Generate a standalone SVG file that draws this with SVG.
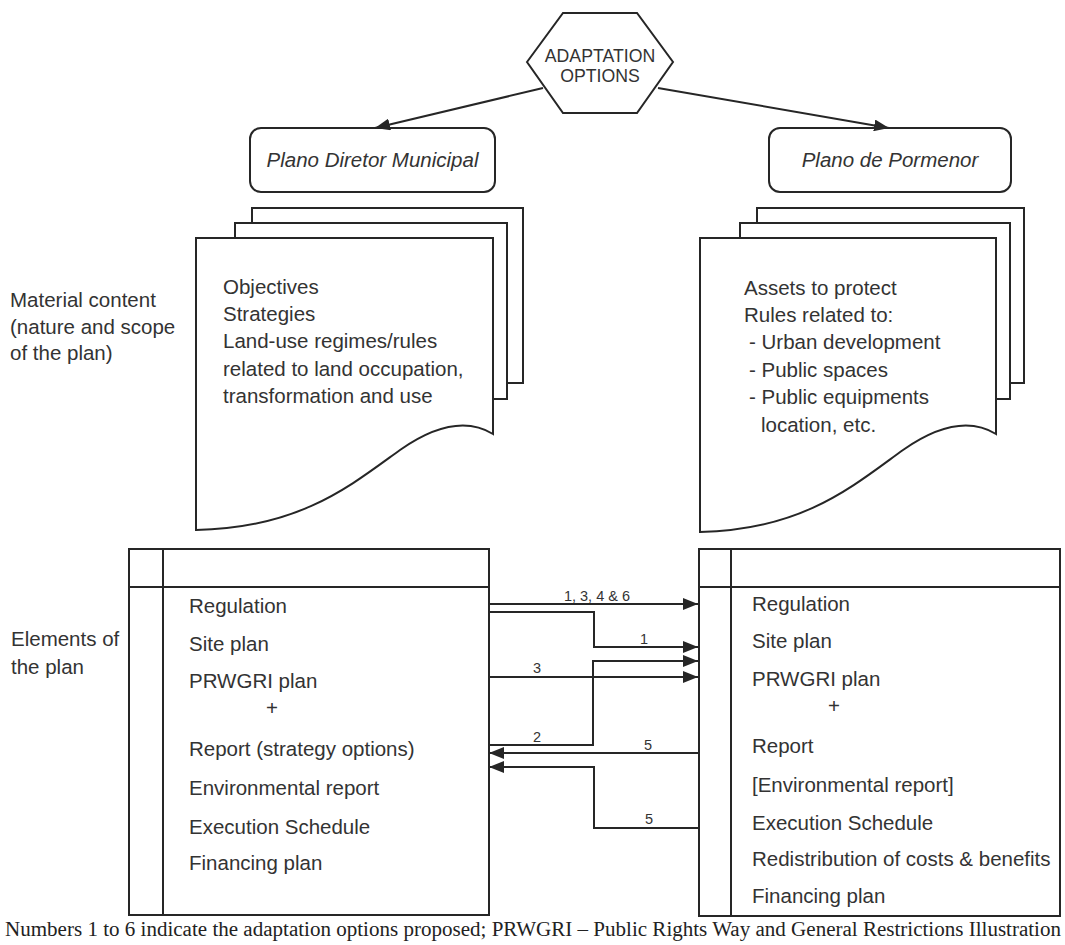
<svg xmlns="http://www.w3.org/2000/svg" width="1065" height="945" viewBox="0 0 1065 945">
<style>
.s{fill:#fff;stroke:#262626;stroke-width:2}
.t{font-family:"Liberation Sans",Arial,Helvetica,sans-serif;font-size:20.5px;fill:#333}
.i{font-style:italic}
.h{font-size:17.7px;text-anchor:middle}
.l{font-size:14.5px;text-anchor:middle}
.c{fill:none;stroke:#262626;stroke-width:2}
.cap{font-family:"Liberation Serif","Times New Roman",serif;font-size:20px;fill:#222}
</style>
<defs>
<marker id="ah" markerUnits="userSpaceOnUse" markerWidth="15" markerHeight="12" refX="15" refY="6" orient="auto" viewBox="0 0 15 12">
<path d="M0,0 L15,6 L0,12 z" fill="#262626"/>
</marker>
</defs>
<rect width="1065" height="945" fill="#fff"/>

<g id="adaptation-options">
<polygon class="s" points="527,62 563,13 637,13 673,62 637,113 563,113"/>
<text class="t h" x="600" y="62">ADAPTATION</text>
<text class="t h" x="600" y="82">OPTIONS</text>
</g>

<g id="pdm">
<rect class="s" x="250" y="128" width="245" height="64" rx="11"/>
<text class="t i" x="372.5" y="167" text-anchor="middle">Plano Diretor Municipal</text>
</g>

<g id="pp">
<rect class="s" x="769" y="128" width="242" height="64" rx="11"/>
<text class="t i" x="890" y="167" text-anchor="middle">Plano de Pormenor</text>
</g>

<g id="label-material">
<text class="t" x="10" y="307">Material content</text>
<text class="t" x="10" y="334">(nature and scope</text>
<text class="t" x="10" y="360">of the plan)</text>
</g>

<g id="label-elements">
<text class="t" x="11" y="646">Elements of</text>
<text class="t" x="11" y="674">the plan</text>
</g>

<g id="pdm-content">
<rect class="s" x="252" y="208" width="271" height="175"/>
<rect class="s" x="235" y="223" width="272" height="176"/>
<path class="s" d="M196,238 H493 V434 C470,420 440,422 400,450 C350,486 300,528 196,530 Z"/>
<text class="t" x="223" y="294">Objectives</text>
<text class="t" x="223" y="321">Strategies</text>
<text class="t" x="223" y="348">Land-use regimes/rules</text>
<text class="t" x="223" y="376">related to land occupation,</text>
<text class="t" x="223" y="403">transformation and use</text>
</g>

<g id="pp-content">
<rect class="s" x="757" y="208" width="267" height="175"/>
<rect class="s" x="740" y="223" width="270" height="176"/>
<path class="s" d="M700,238 H996 V434 C973,420 943,422 903,450 C853,486 803,530 700,532 Z"/>
<text class="t" x="744" y="295">Assets to protect</text>
<text class="t" x="744" y="322">Rules related to:</text>
<text class="t" x="749" y="349">- Urban development</text>
<text class="t" x="749" y="377">- Public spaces</text>
<text class="t" x="749" y="404">- Public equipments</text>
<text class="t" x="761" y="432">location, etc.</text>
</g>

<g id="pdm-elements">
<rect class="s" x="129" y="549" width="360" height="366"/>
<path class="c" d="M163,549 V915 M129,587 H489"/>
<text class="t" x="189" y="613">Regulation</text>
<text class="t" x="189" y="651">Site plan</text>
<text class="t" x="189" y="688">PRWGRI plan</text>
<text class="t" x="272" y="715" text-anchor="middle">+</text>
<text class="t" x="189" y="756">Report (strategy options)</text>
<text class="t" x="189" y="795">Environmental report</text>
<text class="t" x="189" y="834">Execution Schedule</text>
<text class="t" x="189" y="870">Financing plan</text>
</g>

<g id="pp-elements">
<rect class="s" x="699" y="549" width="361" height="367"/>
<path class="c" d="M731,549 V916 M699,587 H1060"/>
<text class="t" x="752" y="611">Regulation</text>
<text class="t" x="752" y="648">Site plan</text>
<text class="t" x="752" y="686">PRWGRI plan</text>
<text class="t" x="834" y="713" text-anchor="middle">+</text>
<text class="t" x="752" y="753">Report</text>
<text class="t" x="752" y="792">[Environmental report]</text>
<text class="t" x="752" y="830">Execution Schedule</text>
<text class="t" x="752" y="866">Redistribution of costs &amp; benefits</text>
<text class="t" x="752" y="903">Financing plan</text>
</g>

<g id="connectors">
<path class="c" marker-end="url(#ah)" d="M543,88 L375,128"/>
<path class="c" marker-end="url(#ah)" d="M658,88 L889,128"/>
<path class="c" marker-end="url(#ah)" d="M489,604 H698"/>
<path class="c" marker-end="url(#ah)" d="M489,612 H594 V647 H698"/>
<path class="c" marker-end="url(#ah)" d="M489,745 H593 V661 H698"/>
<path class="c" marker-end="url(#ah)" d="M489,677 H698"/>
<path class="c" marker-end="url(#ah)" d="M699,753 H489"/>
<path class="c" marker-end="url(#ah)" d="M699,828 H594 V767 H489"/>
<text class="t l" x="597" y="601">1, 3, 4 &amp; 6</text>
<text class="t l" x="644" y="644">1</text>
<text class="t l" x="537" y="673">3</text>
<text class="t l" x="537" y="742">2</text>
<text class="t l" x="648" y="750">5</text>
<text class="t l" x="649" y="824">5</text>
</g>

<g id="caption">
<text class="cap" x="533" y="936" text-anchor="middle" textLength="1056" lengthAdjust="spacingAndGlyphs">Numbers 1 to 6 indicate the adaptation options proposed; PRWGRI – Public Rights Way and General Restrictions Illustration</text>
</g>
</svg>
